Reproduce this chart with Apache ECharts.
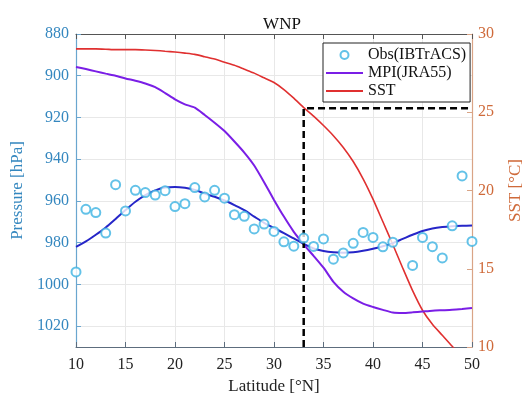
<!DOCTYPE html>
<html><head><meta charset="utf-8">
<script src="https://cdn.jsdelivr.net/npm/echarts@6/dist/echarts.min.js"></script>
<style>html,body{margin:0;padding:0;background:#fff}#c{width:532px;height:400px}</style>
</head><body><div id="c"></div>
<script>
const latitudes = [10,11,12,13,14,15,16,17,18,19,20,21,22,23,24,25,26,27,28,29,30,31,32,33,34,35,36,37,38,39,40,41,42,43,44,45,46,47,48,49,50];
const obsPressure = [994,964,965.6,975.4,952.2,964.8,954.9,956,957.2,955.1,962.7,961.3,953.6,958.1,954.9,958.7,966.6,967.4,973.4,971.1,974.6,979.6,981.7,977.8,981.8,978.2,987.9,984.9,980.3,975.1,977.5,982,979.8,null,990.9,977.5,981.9,987.3,971.9,948,979.4];
const obsFit = [982,979.4,976.2,972.7,968.6,964.4,960.4,957.2,955,953.6,953.3,953.7,954.7,956.5,958,959.8,962,964.4,967.5,970.5,973,975.4,978,980.6,982.8,984,984.6,984.8,984.6,983.9,982.9,981.7,980.2,978.2,976.2,974.4,973.2,972.5,972.1,971.9,971.8];
const mpiPressure = [895.8,896.8,897.9,899,900,901.3,902.4,903.7,905.5,908.3,911.3,913.7,915.3,918.8,922.5,926.5,931.5,936.8,943,951,959.5,967.5,974.8,980.8,986.3,992,998.8,1003.5,1006.7,1009.2,1010.8,1012.2,1013.5,1013.7,1013.4,1013,1012.6,1012.4,1012.2,1011.8,1011.3];
const sstValues = [29.05,29.05,29.05,29.03,29.0,29.0,29.0,28.98,28.95,28.9,28.85,28.78,28.7,28.55,28.4,28.2,28.0,27.75,27.5,27.2,26.9,26.45,25.9,25.3,24.75,24.15,23.5,22.75,21.85,20.75,19.45,18.0,16.55,15.05,13.6,12.35,11.45,10.75,10.05,9.4,8.8];
const thresholdLat = 33;
const thresholdSST = 25.25;
const latAxis = {min: 10, max: 50, interval: 5};
const pressureAxis = {min: 880, max: 1030, interval: 20};
const sstAxis = {min: 10, max: 30, interval: 5};

const FONT = "'Liberation Serif','Times New Roman',serif";
const leftColor = '#3487bf';
const rightColor = '#cf6a3a';
const pair = (vals) => latitudes.map((x, i) => [x, vals[i]]).filter(p => p[1] != null);
const lineIcon = 'path://M0,0L37,0L37,2L0,2Z';

const chart = echarts.init(document.getElementById('c'), null, {renderer: 'canvas'});
chart.setOption({
  animation: false,
  backgroundColor: '#fff',
  title: {text: 'WNP', left: 277, top: 11, textAlign: 'center',
    textStyle: {fontFamily: FONT, fontSize: 17, fontWeight: 'normal', color: '#111'}},
  grid: {left: 76, right: 53, top: 34, bottom: 50, containLabel: false},
  legend: {
    orient: 'vertical', left: 323, top: 43,
    data: [
      {name: 'Obs(IBTrACS)', icon: 'emptyCircle'},
      {name: 'MPI(JRA55)', icon: lineIcon},
      {name: 'SST', icon: lineIcon}
    ],
    itemWidth: 37, itemHeight: 8, itemGap: 2,
    padding: [4, 4, 3, 3],
    backgroundColor: '#fff', borderColor: '#222', borderWidth: 1, borderRadius: 0,
    textStyle: {fontFamily: FONT, fontSize: 16, color: '#111'}
  },
  xAxis: [{
    type: 'value', min: latAxis.min, max: latAxis.max, interval: latAxis.interval,
    position: 'bottom',
    name: 'Latitude [°N]', nameLocation: 'middle', nameGap: 31,
    nameTextStyle: {fontFamily: FONT, fontSize: 17, color: '#222'},
    axisLine: {show: true, onZero: false, lineStyle: {color: '#5d6d7d', width: 1}},
    axisTick: {show: true, inside: true, length: 5, lineStyle: {color: '#5d6d7d'}},
    axisLabel: {fontFamily: FONT, fontSize: 16, color: '#222', margin: 10},
    splitLine: {show: true, lineStyle: {color: '#e8e8e8', width: 1}}
  }, {
    type: 'value', min: latAxis.min, max: latAxis.max, interval: latAxis.interval,
    position: 'top',
    axisLine: {show: true, onZero: false, lineStyle: {color: '#555', width: 1}},
    axisTick: {show: true, inside: true, length: 5, lineStyle: {color: '#555'}},
    axisLabel: {show: false}, splitLine: {show: false}
  }],
  yAxis: [{
    type: 'value', inverse: true, min: pressureAxis.min, max: pressureAxis.max, interval: pressureAxis.interval,
    position: 'left',
    name: 'Pressure [hPa]', nameLocation: 'middle', nameGap: 43,
    nameTextStyle: {fontFamily: FONT, fontSize: 17, color: leftColor},
    axisLine: {show: true, onZero: false, lineStyle: {color: '#6aa6cf', width: 1.2}},
    axisTick: {show: true, inside: true, length: 5, lineStyle: {color: '#6aa6cf'}},
    axisLabel: {fontFamily: FONT, fontSize: 16, color: leftColor, margin: 7, showMaxLabel: false,
      formatter: v => String(v)},
    splitLine: {show: true, lineStyle: {color: '#e8e8e8', width: 1}}
  }, {
    type: 'value', min: sstAxis.min, max: sstAxis.max, interval: sstAxis.interval,
    position: 'right',
    name: 'SST [°C]', nameLocation: 'middle', nameGap: 35,
    nameTextStyle: {fontFamily: FONT, fontSize: 17, color: rightColor},
    axisLine: {show: true, onZero: false, lineStyle: {color: '#d9a486', width: 1.2}},
    axisTick: {show: true, inside: true, length: 5, lineStyle: {color: '#d9a486'}},
    axisLabel: {fontFamily: FONT, fontSize: 16, color: rightColor, margin: 6},
    splitLine: {show: false}
  }],
  series: [
    {name: 'SST', type: 'line', yAxisIndex: 1, data: pair(sstValues), showSymbol: false, symbol: 'none',
      smooth: 0.2, lineStyle: {color: '#e03030', width: 1.6}, itemStyle: {color: '#e03030'}, z: 3},
    {name: 'MPI(JRA55)', type: 'line', yAxisIndex: 0, data: pair(mpiPressure), showSymbol: false, symbol: 'none',
      smooth: 0.2, lineStyle: {color: '#7a1ee6', width: 2}, itemStyle: {color: '#7a1ee6'}, z: 3},
    {name: 'Obs fit', type: 'line', yAxisIndex: 0, data: pair(obsFit), showSymbol: false, symbol: 'none',
      smooth: 0.3, lineStyle: {color: '#2626c8', width: 2}, itemStyle: {color: '#2626c8'}, z: 3},
    {name: 'Threshold', type: 'line', yAxisIndex: 1,
      data: [[thresholdLat, sstAxis.min], [thresholdLat, thresholdSST], [latAxis.max, thresholdSST]],
      showSymbol: false, symbol: 'none', lineStyle: {color: '#000', width: 2.5, type: [7, 4]}, z: 4},
    {name: 'Obs(IBTrACS)', type: 'scatter', yAxisIndex: 0, data: pair(obsPressure),
      symbol: 'emptyCircle', symbolSize: 9,
      itemStyle: {color: '#3cb3e2', borderColor: '#3cb3e2', borderWidth: 1.8}, z: 5}
  ]
});
</script></body></html>
